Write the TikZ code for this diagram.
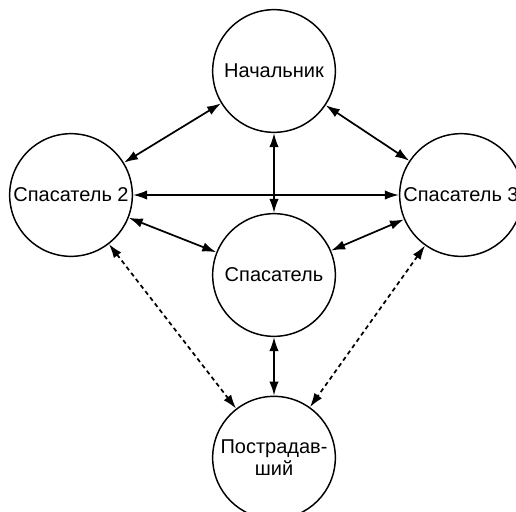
\documentclass[tikz,border=0pt]{standalone}
\usepackage{fontspec}
\setmainfont{Liberation Sans}
\usetikzlibrary{arrows.meta,
                  positioning}

\begin{document}
\begin{tikzpicture}[x=0.75pt, y=-0.75pt, every node/.style={font=\fontsize{15}{16.5}\selectfont}]
    \tikzset{
    circ/.style = {draw, circle, line width=1.1pt, minimum size=92pt, inner sep=0pt, align=center},
    line/.style = {draw, line width=1.3pt, {Latex[length=10.5pt,width=7pt]}-{Latex[length=10.5pt,width=7pt]}},
    dline/.style = {line, dash pattern=on 3.2pt off 2.6pt}
}
\useasboundingbox (0,0) rectangle (516,511);

\node [circ] at (274,71) (chief) {Начальник};
\node [circ, below of=chief, node distance=153pt] (rescuer) {Спасатель};
\node [circ, below of=rescuer, node distance=137pt] (victim) {Пострадав-\\ший};
\node [circ] at (71,195) (rescuer2) {Спасатель 2};
\node [circ] at (461,195) (rescuer3) {Спасатель 3};

\path [line] (chief) -- (rescuer2);
\path [line] (chief) -- (rescuer3);
\path [line] (chief) -- (rescuer);
\path [line] (rescuer2) -- (rescuer3);
\path [line] (rescuer2) -- (rescuer);
\path [line] (rescuer3) -- (rescuer);
\path [line] (rescuer) -- (victim);
\path [dline] (rescuer2) -- (victim);
\path [dline] (rescuer3) -- (victim);

\end{tikzpicture}
\end{document}
